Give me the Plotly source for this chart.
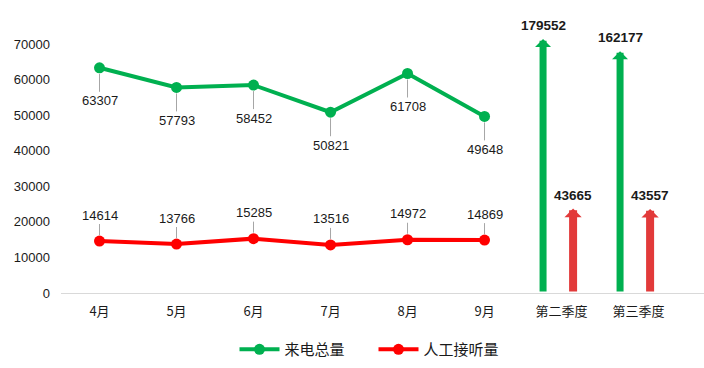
import numpy as np
import plotly.graph_objects as go

# ---------------- data ----------------
months = ["4月", "5月", "6月", "7月", "8月", "9月"]
quarters = ["第二季度", "第三季度"]
total_calls = [63307, 57793, 58452, 50821, 61708, 49648]      # 来电总量
answered_calls = [14614, 13766, 15285, 13516, 14972, 14869]   # 人工接听量
q_total_calls = [179552, 162177]
q_answered_calls = [43665, 43557]
y_ticks = [0, 10000, 20000, 30000, 40000, 50000, 60000, 70000]
series_names = ["来电总量", "人工接听量"]

# ---------------- style ----------------
GREEN = "#00B050"
RED = "#FF0000"
RED_ARROW = "#E23A3A"
TXT = "#1a1a1a"
FONT = "Liberation Sans, Noto Sans CJK SC, sans-serif"
CJK = "Noto Sans CJK SC, sans-serif"

categories = months + quarters
Y2_RANGE = [np.log10(21600), 5.287]

fig = go.Figure()
fig.add_trace(go.Scatter(
    x=months, y=total_calls, name=series_names[0], mode="lines+markers",
    line=dict(color=GREEN, width=4), marker=dict(color=GREEN, size=11),
    hoverinfo="skip"))
fig.add_trace(go.Scatter(
    x=months, y=answered_calls, name=series_names[1], mode="lines+markers",
    line=dict(color=RED, width=4), marker=dict(color=RED, size=11),
    hoverinfo="skip"))
# invisible anchor trace for the quarterly (log-scaled) arrow axis
fig.add_trace(go.Scatter(
    x=quarters, y=q_total_calls, yaxis="y2", mode="markers",
    marker=dict(opacity=0), showlegend=False, hoverinfo="skip"))

ann = []
# data labels for the monthly lines
for m, v in zip(months, total_calls):
    ann.append(dict(x=m, y=v, xref="x", yref="y", text=f"{v}", showarrow=True,
                    arrowhead=0, arrowwidth=1, arrowcolor="#A6A6A6", ax=0, ay=33,
                    standoff=6, font=dict(family=FONT, size=13, color=TXT)))
for m, v in zip(months, answered_calls):
    ann.append(dict(x=m, y=v, xref="x", yref="y", text=f"{v}", showarrow=True,
                    arrowhead=0, arrowwidth=1, arrowcolor="#A6A6A6", ax=0, ay=-26,
                    standoff=6, font=dict(family=FONT, size=13, color=TXT)))

# quarterly arrows
arrow_specs = [(q_total_calls, -0.24, GREEN, 7, 0.38),
               (q_answered_calls, 0.15, RED_ARROW, 8, 0.36)]
for vals, off, col, w, sz in arrow_specs:
    for q, v in zip(quarters, vals):
        xi = categories.index(q) + off
        yv = np.log10(v)
        ann.append(dict(x=xi, y=yv, xref="x", yref="y2", ax=xi, ay=Y2_RANGE[0],
                        axref="x", ayref="y2", text="", showarrow=True,
                        arrowhead=1, arrowwidth=w, arrowsize=sz, arrowcolor=col))
        ann.append(dict(x=xi, y=yv, xref="x", yref="y2", text=f"<b>{v}</b>",
                        showarrow=False, yanchor="bottom", yshift=4,
                        font=dict(family=FONT, size=13.5, color=TXT)))

fig.update_layout(
    width=704, height=368,
    margin=dict(l=61, r=0, t=30, b=75),
    paper_bgcolor="white", plot_bgcolor="white",
    showlegend=True,
    legend=dict(orientation="h", x=0.486, xanchor="center", y=-0.215, yanchor="middle",
                font=dict(family=CJK, size=15, color=TXT), itemwidth=40,
                tracegroupgap=0, entrywidthmode="pixels", entrywidth=84),
    xaxis=dict(type="category", categoryorder="array", categoryarray=categories,
               range=[-0.5, 7.85], showgrid=False, zeroline=False, showline=True,
               linecolor="#D9D9D9", linewidth=1, ticks="",
               tickfont=dict(family=CJK, size=13, color=TXT), ticklabelstandoff=6),
    yaxis=dict(range=[0, 73936], tickvals=y_ticks, tickformat="d", showgrid=False,
               zeroline=False, showline=False, ticks="", ticklabelstandoff=10,
               tickfont=dict(family=FONT, size=13, color=TXT)),
    yaxis2=dict(type="log", overlaying="y", range=Y2_RANGE, showgrid=False,
                zeroline=False, showline=False, showticklabels=False, ticks=""),
    annotations=ann,
    hovermode=False,
)

fig.write_html("out.html")
